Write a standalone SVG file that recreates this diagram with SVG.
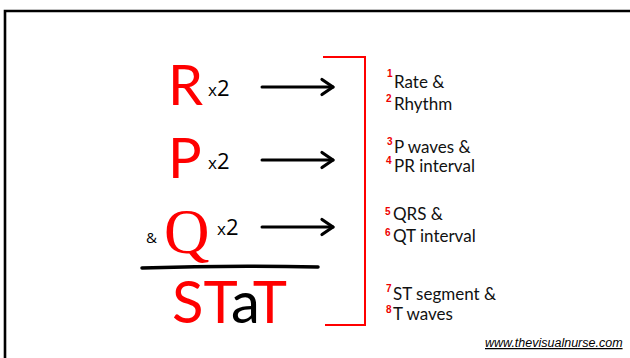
<svg xmlns="http://www.w3.org/2000/svg" width="630" height="358" viewBox="0 0 630 358">
<defs>
<marker id="chev" markerUnits="userSpaceOnUse" markerWidth="16" markerHeight="18" refX="13" refY="8" orient="auto" overflow="visible">
<path d="M2,0.5 L13,8 L2,15.5" fill="none" stroke="#000" stroke-width="3.2" stroke-linecap="round" stroke-linejoin="round"/>
</marker>
</defs>
<style>
.big{font-family:Lato,"Open Sans",sans-serif;font-size:56px;fill:#f00}
.x2{font-family:"Open Sans",sans-serif;font-size:22px;fill:#000}
.x{font-size:17px}
.lab{font-family:Lato,"Open Sans",sans-serif;font-size:17px;fill:#111}
.num{font-family:"Liberation Sans",sans-serif;font-size:10px;font-weight:bold;fill:#e00}
.arr{fill:none;stroke:#000;stroke-width:3;stroke-linecap:round;marker-end:url(#chev)}
</style>
<rect width="630" height="358" fill="#fff"/>
<path d="M5,358 V11 H630" fill="none" stroke="#000" stroke-width="2.6"/>
<g id="R"><text class="big" x="168" y="105">R</text><text class="x2" x="208" y="96"><tspan class="x">x</tspan>2</text></g>
<g id="P"><text class="big" x="168" y="178">P</text><text class="x2" x="208" y="169"><tspan class="x">x</tspan>2</text></g>
<g id="Q"><text class="x2" x="146" y="243" style="font-size:15px">&amp;</text><text class="big" x="164" y="253" style="font-family:'Liberation Serif',serif;font-size:63px">Q</text><text class="x2" x="217" y="235"><tspan class="x">x</tspan>2</text></g>
<g id="divider"><path d="M142,268 Q230,265 318,267" fill="none" stroke="#000" stroke-width="3.5" stroke-linecap="round"/></g>
<g id="STaT"><text class="big" x="172" y="323" style="font-size:58px">ST<tspan fill="#000">a</tspan>T</text></g>
<g id="bracket"><path d="M323,57 H365 V325 H325" fill="none" stroke="#f00" stroke-width="2"/></g>
<g id="connectors">
<line class="arr" x1="262" y1="87" x2="333" y2="87"/>
<line class="arr" x1="262" y1="160" x2="333" y2="160"/>
<line class="arr" x1="262" y1="227" x2="333" y2="227"/>
</g>
<g id="rate"><text class="num" x="387" y="77">1</text><text class="num" x="386" y="102">2</text><text class="lab" x="394" y="88">Rate &amp;</text><text class="lab" x="394" y="110">Rhythm</text></g>
<g id="pwaves"><text class="num" x="387" y="145">3</text><text class="num" x="386" y="164">4</text><text class="lab" x="394" y="153">P waves &amp;</text><text class="lab" x="394" y="172">PR interval</text></g>
<g id="qrs"><text class="num" x="385" y="215">5</text><text class="num" x="385" y="236">6</text><text class="lab" x="393" y="220">QRS &amp;</text><text class="lab" x="393" y="242">QT interval</text></g>
<g id="st"><text class="num" x="386" y="292">7</text><text class="num" x="386" y="313">8</text><text class="lab" x="393" y="300">ST segment &amp;</text><text class="lab" x="393" y="320">T waves</text></g>
<text x="485" y="347" style="font-family:'Liberation Sans',sans-serif;font-size:12.5px;font-style:italic;text-decoration:underline" fill="#000">www.thevisualnurse.com</text>
</svg>
